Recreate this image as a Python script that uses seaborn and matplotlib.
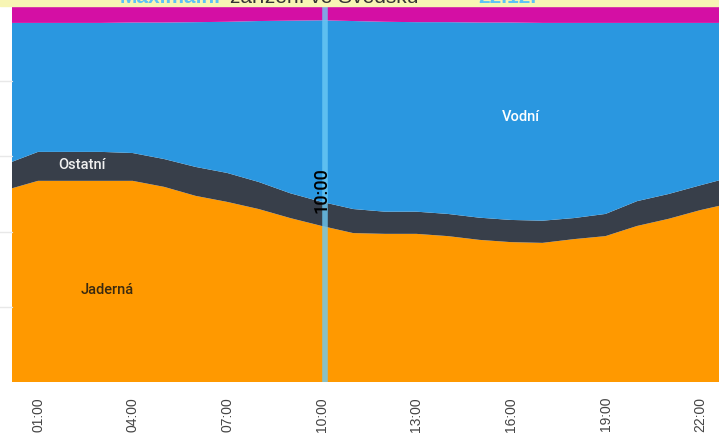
import numpy as np
import seaborn as sns
import matplotlib.pyplot as plt
from matplotlib.patches import Rectangle

# hodiny dne a podíl zdrojů (%)
hours = list(range(24))
jaderna = [51.1, 53.5, 53.5, 53.5, 53.5, 51.9, 49.5, 47.9, 46.0, 43.6, 41.5, 39.6,
           39.4, 39.4, 38.8, 37.8, 37.2, 37.0, 38.0, 38.8, 41.5, 43.4, 45.7, 47.6]
ostatni = [6.9, 7.7, 7.7, 7.7, 7.4, 7.4, 7.7, 7.7, 7.2, 6.6, 6.4, 6.4,
           5.9, 5.9, 5.9, 5.9, 5.9, 5.9, 5.6, 5.9, 6.6, 6.6, 6.6, 6.9]
vodni = [37.5, 34.3, 34.3, 34.3, 34.7, 36.3, 38.5, 40.2, 42.8, 45.9, 48.3, 50.0,
         50.5, 50.4, 51.0, 51.9, 52.5, 52.6, 51.9, 50.8, 47.4, 45.5, 43.2, 41.0]
vetrna = [4.5, 4.5, 4.5, 4.5, 4.4, 4.4, 4.3, 4.2, 4.0, 3.9, 3.8, 4.0,
          4.2, 4.3, 4.3, 4.4, 4.4, 4.5, 4.5, 4.5, 4.5, 4.5, 4.5, 4.5]

tick_hours = [1, 4, 7, 10, 13, 16, 19, 22]
tick_labels = ['01:00', '04:00', '07:00', '10:00', '13:00', '16:00', '19:00', '22:00']
colors = ['#ff9900', '#383f4a', '#2a97e0', '#d40fa4']

sns.set_theme(style='white')
plt.rcParams['font.family'] = ['Liberation Sans', 'DejaVu Sans']

fig = plt.figure(figsize=(7.19, 4.39), dpi=100)
ax = fig.add_axes([12 / 719, 56 / 439, 707 / 719, 376 / 439])

ax.stackplot(hours, jaderna, ostatni, vodni, vetrna, colors=colors, linewidth=0)

ax.set_xlim(0.175, 22.6)
ax.set_ylim(0, 100)
ax.set_yticks([])
ax.set_xticks(tick_hours)
ax.set_xticklabels(tick_labels, rotation=90, fontsize=10, color='#444444')
ax.tick_params(axis='x', length=0, pad=10)
for s in ax.spines.values():
    s.set_visible(False)

# kousky mřížky vlevo od grafu
for g in [20, 40, 60, 80]:
    ax.plot([-0.02, 0], [g, g], transform=ax.get_yaxis_transform(),
            color='#e8e8e8', lw=1, clip_on=False)

# aktuální hodina
ax.axvline(10.1, color='#6ccaf5', lw=4, alpha=0.8)
ax.text(10.0, 51.3, '10:00', rotation=90, ha='center', va='center',
        fontsize=13, color='black', family=['Roboto', 'DejaVu Sans'], fontweight='medium')

lab = dict(fontsize=10.5, ha='center', va='center', family=['Roboto', 'DejaVu Sans'],
           fontweight='medium')
ax.text(16.3, 70.7, 'Vodní', color='white', **lab)
ax.text(2.4, 58.0, 'Ostatní', color='#f0f0f0', **lab)
ax.text(3.2, 24.7, 'Jaderná', color='#3a2a10', **lab)

# useknutý titulek nahoře
fig.patches.append(Rectangle((0, 1 - 7 / 439), 1, 7 / 439, transform=fig.transFigure,
                             color='#f7f5b4', zorder=0))
ty = 1 - 3 / 439
fig.text(120 / 719, ty, 'Maximální', color='#5ec4f5', fontsize=15, fontweight='bold', va='baseline')
fig.text(230 / 719, ty, 'zařízení ve Švédsku -', color='#333333', fontsize=15, va='baseline')
fig.text(478 / 719, ty, '22.12.', color='#5ec4f5', fontsize=15, fontweight='bold', va='baseline')

fig.savefig('out.png', dpi=100)
